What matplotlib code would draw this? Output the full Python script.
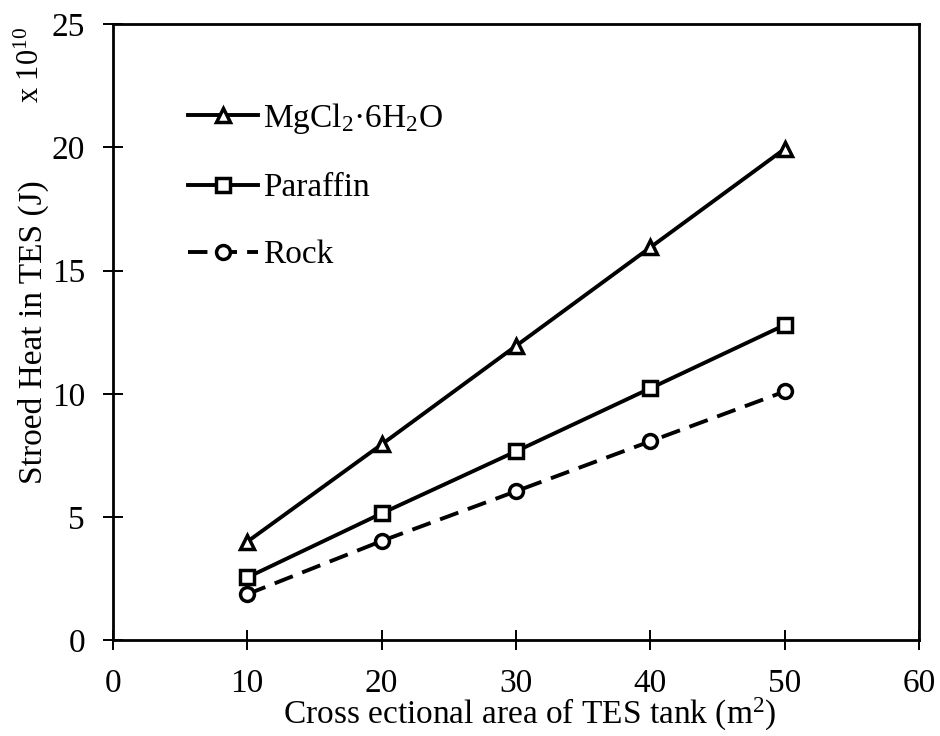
import numpy as np
import matplotlib.pyplot as plt

plt.rcParams['font.family'] = 'Liberation Serif'
plt.rcParams['mathtext.fontset'] = 'custom'
plt.rcParams['mathtext.rm'] = 'Liberation Serif'
plt.rcParams['mathtext.it'] = 'Liberation Serif:italic'

area = [10, 20, 30, 40, 50]
mgcl = [4.0, 7.95, 11.95, 15.95, 19.95]
paraffin = [2.55, 5.15, 7.67, 10.23, 12.8]
rock = [1.87, 4.03, 6.05, 8.08, 10.1]

fig = plt.figure(figsize=(9.4, 7.36), dpi=100)
ax = fig.add_axes([0.120, 0.130, 0.858, 0.837])

kw = dict(color='black', lw=2.8, markersize=10, markerfacecolor='white',
          markeredgewidth=2.5)
ax.plot(area, mgcl, marker='^', label=r'MgCl$_2$·6H$_2$O', **kw)
ax.plot(area, paraffin, marker='s', label='Paraffin', **kw)
ax.plot(area, rock, marker='o', ls=(0, (5, 2.6)), label='Rock', **kw)

ax.set_xlim(0, 60)
ax.set_ylim(0, 25)
ax.set_xticks(np.arange(0, 61, 10))
ax.set_yticks(np.arange(0, 26, 5))
ax.tick_params(direction='inout', length=14, width=1.4, labelsize=24, pad=13)
for s in ax.spines.values():
    s.set_linewidth(2.0)

ax.set_xlabel('Cross ectional area of TES tank (m$^2$)', fontsize=24, labelpad=-2)
ax.xaxis.label.set_x(0.517)
ax.set_ylabel('Stroed Heat in TES (J)', fontsize=24, labelpad=2)
fig.text(0.033, 0.912, r'x 10$^{10}$', rotation=90, fontsize=22,
         ha='center', va='center')

ax.legend(loc='upper left', bbox_to_anchor=(0.056, 0.924), frameon=False,
          fontsize=24, handlelength=2.1, labelspacing=1.1, handletextpad=0.15)

fig.savefig('out.png', dpi=100)
